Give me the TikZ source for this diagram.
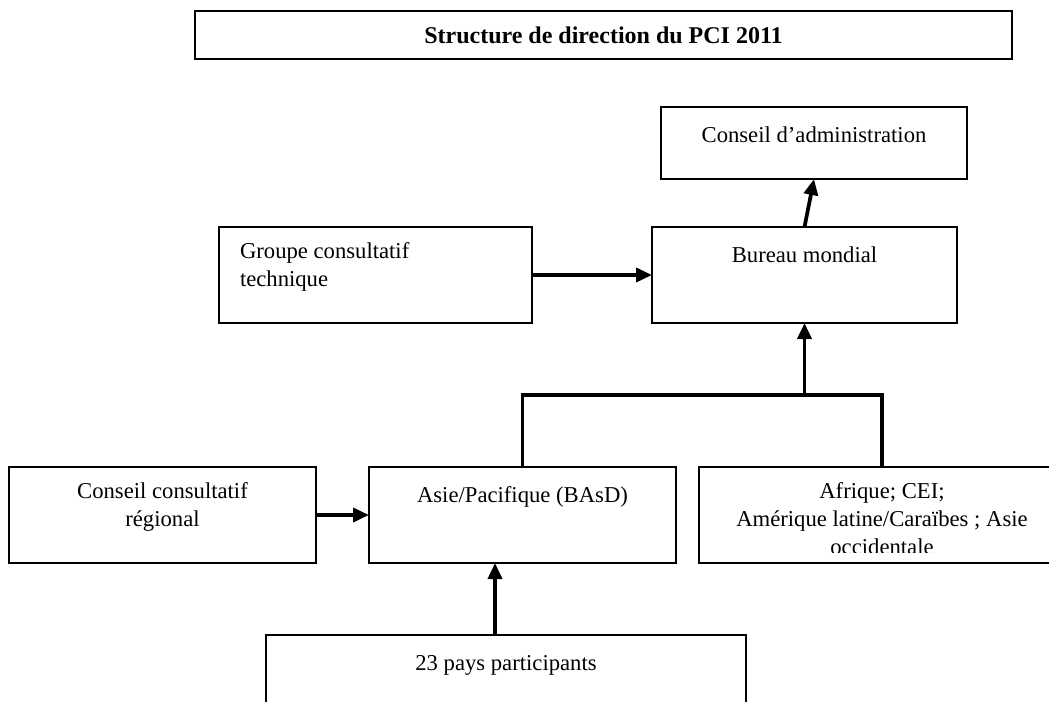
\documentclass[tikz,border=0pt]{standalone}
\usepackage{fontspec}
\setmainfont{Liberation Serif}
\usetikzlibrary{arrows.meta,positioning}
\tikzset{
  box/.style={draw,line width=1.2pt,rectangle,inner sep=0pt,outer sep=0pt,minimum height=72pt},
  lbl/.style={inner sep=0pt,outer sep=0pt,align=center,font=\fontsize{17}{21}\selectfont,execute at begin node=\strut},
  flow/.style={line width=2.8pt,-{Triangle[length=12pt,width=10.5pt]}},
  branch/.style={line width=2.8pt,line join=miter}
}

\begin{document}
\begin{tikzpicture}[x=0.75pt,y=-0.75pt]
  \useasboundingbox (0,0) rectangle (1049,702);
  \clip (0,0) rectangle (1049,702);
  \node[box,minimum width=612.75pt,minimum height=36pt,font=\fontsize{18}{21}\selectfont\bfseries] (title) at (603.5,35) {Structure de direction du PCI 2011};
  \node[box,minimum width=229.5pt,minimum height=54pt] (cad) at (814,143) {};
  \node[box,minimum width=228.75pt] (bm) at (804.5,275) {};
  \node[box,minimum width=234.75pt] (gct) at (375.5,275) {};
  \node[box,minimum width=230.25pt] (ccr) at (162.5,515) {};
  \node[box,minimum width=230.25pt] (ap) at (522.5,515) {};
  \node[box,minimum width=274.5pt] (afr) at (882,515) {};
  \node[box,minimum width=360pt] (pays) at (506,683) {};
  \node[lbl,below=12pt of cad.north] (cadtext) {Conseil d’administration};
  \node[lbl,below=12pt of bm.north] (bmtext) {Bureau mondial};
  \node[lbl,align=left,below right=12pt and 15.75pt of gct.north west] (gcttext) {Groupe consultatif\\technique};
  \node[lbl,below=12pt of ccr.north] (ccrtext) {Conseil consultatif\\régional};
  \node[lbl,below=12pt of ap.north] (aptext) {Asie/Pacifique (BAsD)};
  \node[lbl,below=12pt of pays.north] (paystext) {23 pays participants};
  \begin{scope}
    \clip (699,467) rectangle (1049,552);
    \node[lbl,below=12pt of afr.north] (afrtext) {Afrique; CEI;\\Amérique latine/Caraïbes ; Asie\\occidentale};
  \end{scope}
  \coordinate (junction) at (804.5,395);
  \draw[flow] (bm.north) -- (cad.south);
  \draw[flow] (gct) -- (bm);
  \draw[branch] (ap.north) |- (junction) -| (afr.north);
  \draw[flow] (junction) -- (bm.south);
  \draw[flow] (ccr) -- (ap);
  \draw[flow] ([xshift=-8.25pt]pays.north) -- ([xshift=-8.25pt]pays.north |- ap.south);
\end{tikzpicture}
\end{document}
